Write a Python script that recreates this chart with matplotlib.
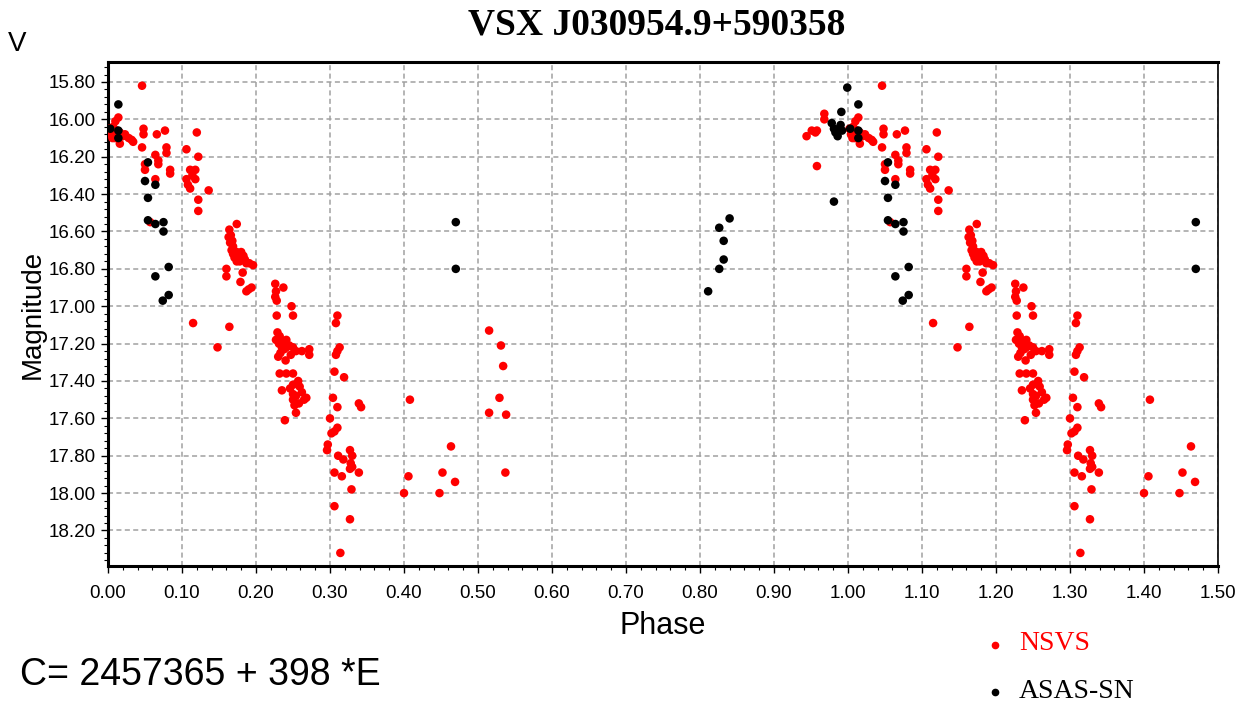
import numpy as np
import matplotlib
matplotlib.use("Agg")
import matplotlib.pyplot as plt
from matplotlib.ticker import MultipleLocator, FormatStrFormatter
from matplotlib.lines import Line2D

# ---------------- data (phase, V magnitude) ----------------
nsvs_phase = [
    0.002, 0.004, 0.006, 0.007, 0.009, 0.010, 0.014, 0.016, 0.016, 0.012, 0.020, 0.023, 0.028, 0.032, 0.034, 0.046,
    0.048, 0.048, 0.046, 0.066, 0.077, 0.079, 0.079, 0.064, 0.068, 0.050, 0.050, 0.068, 0.084, 0.084, 0.064, 0.057,
    0.120, 0.106, 0.122, 0.111, 0.118, 0.114, 0.106, 0.108, 0.111, 0.118, 0.136, 0.122, 0.122,
    0.115, 0.164, 0.148,
    0.174, 0.164, 0.166, 0.163, 0.165, 0.169, 0.167, 0.169, 0.174, 0.180, 0.183, 0.171, 0.174, 0.178, 0.187, 0.191,
    0.196, 0.160, 0.160, 0.182, 0.179, 0.190, 0.194, 0.187, 0.168, 0.176, 0.185,
    0.226, 0.237, 0.227, 0.226, 0.228, 0.248, 0.250, 0.228, 0.229, 0.232, 0.227, 0.231, 0.238, 0.235, 0.233, 0.238,
    0.241, 0.245, 0.250, 0.254, 0.247, 0.230, 0.240, 0.272, 0.272, 0.232, 0.241, 0.250, 0.257, 0.259, 0.235, 0.250,
    0.250, 0.254, 0.262, 0.268, 0.252, 0.254, 0.239, 0.241, 0.262, 0.250, 0.246, 0.258, 0.265,
    0.310, 0.308, 0.313, 0.310, 0.308, 0.306, 0.319, 0.304, 0.310, 0.339, 0.342, 0.300, 0.310, 0.306, 0.302, 0.297,
    0.296, 0.311, 0.318, 0.327, 0.330, 0.328, 0.330, 0.327, 0.306, 0.316, 0.339, 0.329, 0.306, 0.327, 0.314,
    0.408, 0.406, 0.400, 0.4635, 0.452, 0.469, 0.448, 0.515, 0.531, 0.534, 0.529, 0.515, 0.538, 0.537,
    0.944, 0.951, 0.956, 0.958, 0.958, 0.968, 0.968,
]
nsvs_mag = [
    16.05, 16.08, 16.10, 16.04, 16.10, 16.01, 15.99, 16.07, 16.13, 16.06, 16.09, 16.08, 16.10, 16.11, 16.12, 15.82,
    16.05, 16.08, 16.15, 16.08, 16.06, 16.15, 16.18, 16.19, 16.22, 16.24, 16.27, 16.24, 16.27, 16.29, 16.32, 16.55,
    16.07, 16.16, 16.20, 16.27, 16.27, 16.30, 16.32, 16.35, 16.37, 16.32, 16.38, 16.43, 16.49,
    17.09, 17.11, 17.22,
    16.56, 16.59, 16.62, 16.63, 16.66, 16.68, 16.70, 16.72, 16.71, 16.71, 16.73, 16.74, 16.76, 16.76, 16.77, 16.77,
    16.78, 16.80, 16.84, 16.82, 16.87, 16.91, 16.90, 16.92, 16.65, 16.73, 16.75,
    16.88, 16.90, 16.92, 16.95, 16.97, 17.00, 17.05, 17.05, 17.14, 17.16, 17.18, 17.20, 17.19, 17.22, 17.25, 17.23,
    17.22, 17.21, 17.22, 17.24, 17.26, 17.27, 17.29, 17.23, 17.26, 17.36, 17.36, 17.36, 17.40, 17.43, 17.45, 17.47,
    17.50, 17.48, 17.46, 17.49, 17.53, 17.57, 17.61, 17.18, 17.24, 17.42, 17.44, 17.52, 17.50,
    17.05, 17.09, 17.22, 17.24, 17.26, 17.35, 17.38, 17.49, 17.54, 17.52, 17.54, 17.60, 17.65, 17.67, 17.68, 17.74,
    17.77, 17.80, 17.82, 17.77, 17.80, 17.84, 17.86, 17.87, 17.89, 17.91, 17.89, 17.98, 18.07, 18.14, 18.32,
    17.50, 17.91, 18.00, 17.75, 17.89, 17.94, 18.00, 17.13, 17.21, 17.32, 17.49, 17.57, 17.58, 17.89,
    16.09, 16.06, 16.07, 16.06, 16.25, 15.97, 16.00,
]

asas_phase = [
    0.003, 0.014, 0.014, 0.014, 0.054, 0.050, 0.064, 0.054, 0.054, 0.064, 0.075, 0.075, 0.082, 0.064, 0.082, 0.074,
    0.470, 0.470,
    0.811, 0.826, 0.832, 0.832, 0.826, 0.840,
    0.981, 0.978, 0.981, 0.983, 0.988, 0.990, 0.986, 0.992, 0.991, 0.999,
]
asas_mag = [
    16.05, 15.92, 16.06, 16.10, 16.23, 16.33, 16.35, 16.42, 16.54, 16.56, 16.55, 16.60, 16.79, 16.84, 16.94, 16.97,
    16.55, 16.80,
    16.92, 16.80, 16.75, 16.65, 16.58, 16.53,
    16.44, 16.02, 16.05, 16.07, 16.05, 16.03, 16.09, 16.06, 15.96, 15.83,
]

title = "VSX J030954.9+590358"
x_ticks = np.arange(0.0, 1.501, 0.10)
y_ticks = np.arange(15.80, 18.201, 0.20)

# ---------------- figure ----------------
fig = plt.figure(figsize=(12.5, 7.09), dpi=100)
ax = fig.add_axes([108 / 1250, 1 - 566 / 709, 1110 / 1250, 504 / 709])


def folded(ph, mg):
    ph = np.asarray(ph)
    mg = np.asarray(mg)
    p2 = ph + 1.0
    keep = p2 <= 1.5
    return np.concatenate([ph, p2[keep]]), np.concatenate([mg, mg[keep]])


rp, rm = folded(nsvs_phase, nsvs_mag)
bp, bm = folded(asas_phase, asas_mag)

ax.scatter(rp, rm, s=38, c="#ff0000", edgecolors="none", zorder=3, clip_on=True)
ax.scatter(bp, bm, s=38, c="#000000", edgecolors="none", zorder=4, clip_on=True)

ax.set_xlim(0.0, 1.5)
ax.set_ylim(18.39, 15.693)

ax.xaxis.set_minor_locator(MultipleLocator(0.02))
ax.yaxis.set_minor_locator(MultipleLocator(0.04))
ax.set_xticks(x_ticks)
ax.set_yticks(y_ticks)
ax.xaxis.set_major_formatter(FormatStrFormatter("%.2f"))
ax.yaxis.set_major_formatter(FormatStrFormatter("%.2f"))

ax.grid(True, which="major", color="#a0a0a0", linewidth=1.1,
        linestyle=(0, (3.3, 2.2)), zorder=1)
ax.set_axisbelow(True)

for sp in ax.spines.values():
    sp.set_linewidth(2.2)
    sp.set_color("black")
ax.spines["right"].set_linewidth(1.2)

ax.tick_params(axis="both", which="major", direction="out", length=5, width=1,
               labelsize=13.5, pad=4)
ax.tick_params(axis="both", which="minor", direction="out", length=3, width=0.8)
ax.tick_params(axis="x", pad=9)
for lab in ax.get_xticklabels() + ax.get_yticklabels():
    lab.set_fontfamily("Liberation Sans")

ax.set_xlabel("Phase", fontsize=22, family="Liberation Sans", labelpad=6)
ax.set_ylabel("Magnitude", fontsize=20, family="Liberation Sans", labelpad=2)

fig.text(657 / 1250, 1 - 25 / 709, title, ha="center", va="center",
         fontsize=27, fontweight="bold", family="Liberation Serif")
fig.text(8 / 1250, 1 - 44 / 709, "V", ha="left", va="center",
         fontsize=20, family="Liberation Sans")
fig.text(20 / 1250, 1 - 675 / 709, "C= 2457365 + 398 *E", ha="left", va="center",
         fontsize=27, family="Liberation Sans")

# legend
fig.add_artist(Line2D([995 / 1250], [1 - 645 / 709], marker="o", markersize=4.5,
                      color="#ff0000", linestyle="none", transform=fig.transFigure))
fig.text(1019 / 1250, 1 - 643 / 709, "NSVS", ha="left", va="center", color="#ff0000",
         fontsize=20, family="Liberation Serif")
fig.add_artist(Line2D([995 / 1250], [1 - 692 / 709], marker="o", markersize=4.5,
                      color="#000000", linestyle="none", transform=fig.transFigure))
fig.text(1019 / 1250, 1 - 691 / 709, "ASAS-SN", ha="left", va="center", color="#000000",
         fontsize=20, family="Liberation Serif")

fig.savefig("out.png", dpi=100)
